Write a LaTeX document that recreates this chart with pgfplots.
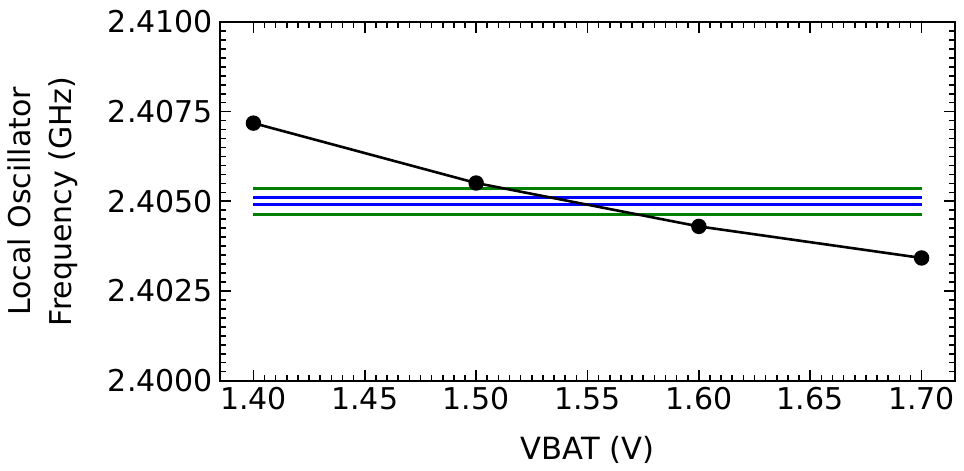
\documentclass[border=0pt]{standalone}
\usepackage{pgfplots}
\pgfplotsset{compat=1.18}
\usepackage{fontspec}
\setmainfont{DejaVu Sans}
\definecolor{mplgreen}{RGB}{0,128,0}
\definecolor{mplblue}{RGB}{0,0,255}
\begin{document}
\begin{tikzpicture}
\begin{axis}[
  name=ax,
  scale only axis,
  width=367.5pt, height=179.3pt,
  xmin=1.385, xmax=1.715,
  ymin=2.4, ymax=2.41,
  xtick={1.40,1.45,1.50,1.55,1.60,1.65,1.70},
  ytick={2.4,2.4025,2.405,2.4075,2.41},
  minor x tick num=9,
  minor y tick num=9,
  tick align=inside,
  tick pos=both,
  xticklabel pos=lower, yticklabel pos=left,
  major tick length=5.3pt,
  minor tick length=3pt,
  every tick/.style={black, line width=0.8pt},
  axis line style={line width=1pt},
  /pgf/number format/assume math mode=true,
  xticklabel style={/pgf/number format/.cd, fixed, fixed zerofill, precision=2},
  yticklabel style={/pgf/number format/.cd, fixed, fixed zerofill, precision=4},
  scaled y ticks=false, scaled x ticks=false,
  tick label style={font=\fontsize{15}{18}\selectfont},
  xlabel style={font=\fontsize{15.3}{18}\selectfont, yshift=-6pt},
  ylabel style={font=\fontsize{15}{20.5}\selectfont, align=center, yshift=8pt},
  xlabel={VBAT (V)},
  ylabel={Local Oscillator\\Frequency (GHz)},
  clip=false,
]
\addplot[mplgreen, line width=1.4pt] coordinates {(1.40,2.405361) (1.70,2.405361)};
\addplot[mplgreen, line width=1.4pt] coordinates {(1.40,2.404639) (1.70,2.404639)};
\addplot[mplblue, line width=1.4pt] coordinates {(1.40,2.405096) (1.70,2.405096)};
\addplot[mplblue, line width=1.4pt] coordinates {(1.40,2.404904) (1.70,2.404904)};
\addplot[black, line width=1.3pt, mark=*, mark size=3.2pt] coordinates {
 (1.40,2.40718) (1.50,2.40551) (1.60,2.40430) (1.70,2.40342)};
\end{axis}
\pgfresetboundingbox
\path[use as bounding box] ([xshift=-110pt,yshift=-45.15pt]ax.south west) rectangle ([xshift=4.5pt,yshift=11pt]ax.north east);
\end{tikzpicture}
\end{document}
